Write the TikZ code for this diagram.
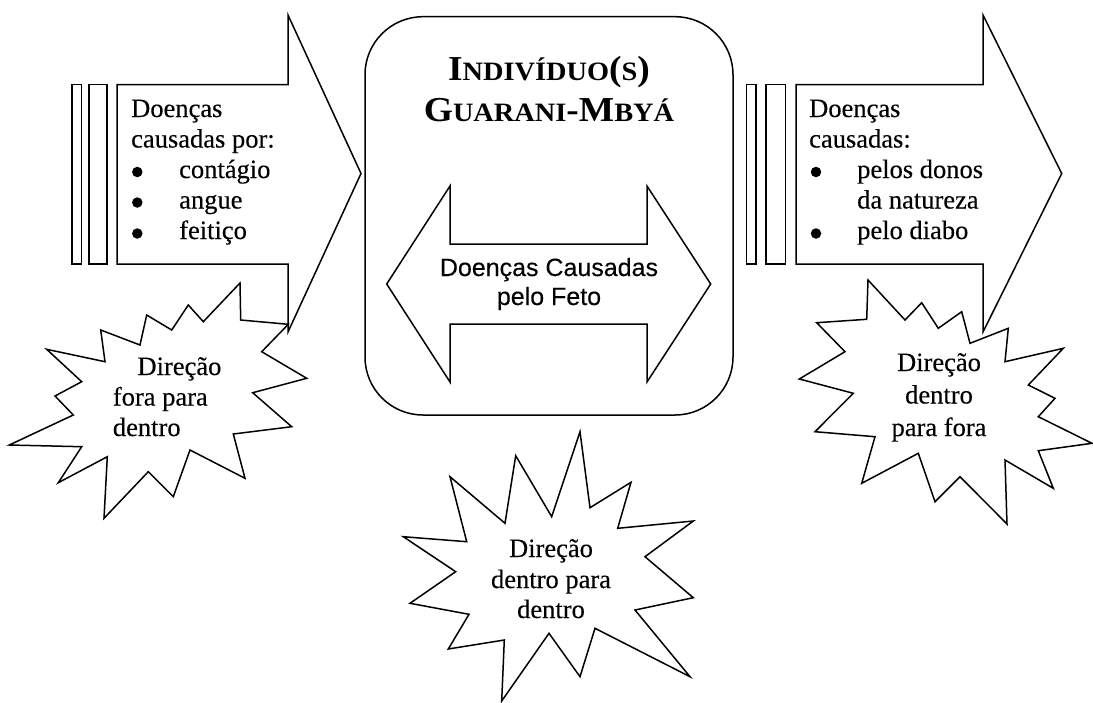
\documentclass[tikz,border=0pt]{standalone}
\usepackage{fontspec}
\setmainfont{Liberation Serif}[FakeBold=0.25]
\newfontfamily\arialfont{Liberation Sans}[FakeBold=0.2]
\newfontfamily\titlefont[FakeStretch=1.07]{Liberation Serif}
\newcommand{\tbig}[1]{{\fontsize{35}{40}\selectfont #1}}
\newcommand{\tsmall}[1]{{\fontsize{26.5}{40}\selectfont #1}}
\begin{document}
\begin{tikzpicture}[x=1pt,y=-1pt,
  shape line/.style={draw=black,line width=1.5pt,fill=white,line join=miter},
  body/.style={anchor=base west,inner sep=0pt,font=\fontsize{26.5}{31}\selectfont},
  dot/.style={circle,fill=black,inner sep=0pt,minimum size=10.5pt},
  startext/.style={inner sep=0pt,font=\fontsize{26.5}{31}\selectfont},
  sanstext/.style={anchor=base,inner sep=0pt,font=\arialfont\fontsize{25}{29}\selectfont},
  titletext/.style={anchor=base,inner sep=0pt,font=\titlefont\bfseries}]
\useasboundingbox (0,0) rectangle (1093,702);

% left arrow
\draw[shape line] (72,84.5) rectangle (81.5,264);
\draw[shape line] (89,84.5) rectangle (107,264);
\draw[shape line] (117,84.5) -- (288,84.5) -- (288,15) -- (361,173.5) -- (288,332) -- (288,264) -- (117,264) -- cycle;

% right arrow
\draw[shape line] (746.7,84.5) rectangle (756,264);
\draw[shape line] (766,84.5) rectangle (785.7,264);
\draw[shape line] (796,84.5) -- (983,84.5) -- (983,15) -- (1061.7,173.5) -- (983,332) -- (983,264) -- (796,264) -- cycle;

% central rounded box
\draw[shape line,rounded corners=58pt] (365,16.7) rectangle (733,415);

% double arrow
\draw[shape line] (386.7,284) -- (450,186) -- (450,244) -- (647,244) -- (647,186) -- (710.7,284) -- (647,382) -- (647,324) -- (450,324) -- (450,382) -- cycle;

% left explosion
\draw[shape line] (46.7,349.3) -- (105,361.7) -- (100.7,330) -- (140,345) -- (146.7,315) -- (171.7,330) -- (188.3,305) -- (203.3,321.7) -- (240,283) -- (240.7,320) -- (288.3,324.3) -- (261.7,351.7) -- (306.7,378.3) -- (252.7,392.7) -- (291.7,426.7) -- (233.3,434) -- (245,478.3) -- (190,450) -- (173.3,496.7) -- (148.3,471.7) -- (104,518.3) -- (107.3,456.7) -- (58.3,482.7) -- (81.7,446.7) -- (9.3,445) -- (73.3,415) -- (55,396) -- (81.7,381.7) -- cycle;

% right explosion
\draw[shape line] (868,280) -- (905,320) -- (921.7,302.7) -- (938.3,328.3) -- (961.7,311.7) -- (970,343.3) -- (1008.3,328.3) -- (1005,361.7) -- (1063.3,348.3) -- (1028.3,385) -- (1055,398.3) -- (1038.3,416.7) -- (1092,443.3) -- (1038.3,450.7) -- (1053.3,488.3) -- (1005,460) -- (1007,524) -- (960,476.7) -- (935,501.7) -- (918.3,453.3) -- (861.7,483.3) -- (875,436.7) -- (815,431.7) -- (853.3,393.3) -- (799.3,379) -- (845,351.7) -- (816.7,322.7) -- (866.7,319.3) -- cycle;

% middle explosion
\draw[shape line] (580,431.7) -- (590,507.7) -- (631,482.3) -- (617.7,528.3) -- (693.3,521) -- (645,556.7) -- (693.3,597.7) -- (635,610) -- (690,676.7) -- (595,628.3) -- (580,676.7) -- (549,633.3) -- (501.7,701) -- (504.3,640) -- (448.3,649) -- (469,614.3) -- (410,603.3) -- (455.7,571.7) -- (403.3,536.7) -- (466.7,541.7) -- (450,476.7) -- (505,523.3) -- (515.7,455.7) -- (551.7,516.7) -- cycle;

% left arrow text
\node[body] (la1) at (131,117) {Doenças};
\node[body] (la2) at (131,147.5) {causadas por:};
\node[dot] (lb1) at (137.3,172) {};
\node[body] (la3) at (179,178) {contágio};
\node[dot] (lb2) at (137.3,202.5) {};
\node[body] (la4) at (179,208.5) {angue};
\node[dot] (lb3) at (137.3,233.5) {};
\node[body] (la5) at (179,239) {feitiço};

% right arrow text
\node[body] (ra1) at (809,117) {Doenças};
\node[body] (ra2) at (809,147.5) {causadas:};
\node[dot] (rb1) at (816,172) {};
\node[body] (ra3) at (857,178) {pelos donos};
\node[body] (ra4) at (857,208.5) {da natureza};
\node[dot] (rb2) at (816,233.5) {};
\node[body] (ra5) at (857,239) {pelo diabo};

% title
\node[titletext] (t1) at (549,80) {\tbig{I}\tsmall{NDIVÍDUO}\tbig{(}\tsmall{S}\tbig{)}};
\node[titletext] (t2) at (549,121.5) {\tbig{G}\tsmall{UARANI}\tbig{-M}\tsmall{BYÁ}};

% double arrow text
\node[sanstext] (d1) at (549,276) {Doenças Causadas};
\node[sanstext] (d2) at (549,305) {pelo Feto};

% left star text
\node[body] (ls1) at (137.3,375) {Direção};
\node[body] (ls2) at (112.7,405.5) {fora para};
\node[body] (ls3) at (112.7,436) {dentro};

% right star text
\node[startext,anchor=base] (rs1) at (939,371) {Direção};
\node[startext,anchor=base] (rs2) at (939,403.5) {dentro};
\node[startext,anchor=base] (rs3) at (939,436) {para fora};

% middle star text
\node[startext,anchor=base] (ms1) at (551,557) {Direção};
\node[startext,anchor=base] (ms2) at (551,588) {dentro para};
\node[startext,anchor=base] (ms3) at (551,618) {dentro};
\end{tikzpicture}
\end{document}
